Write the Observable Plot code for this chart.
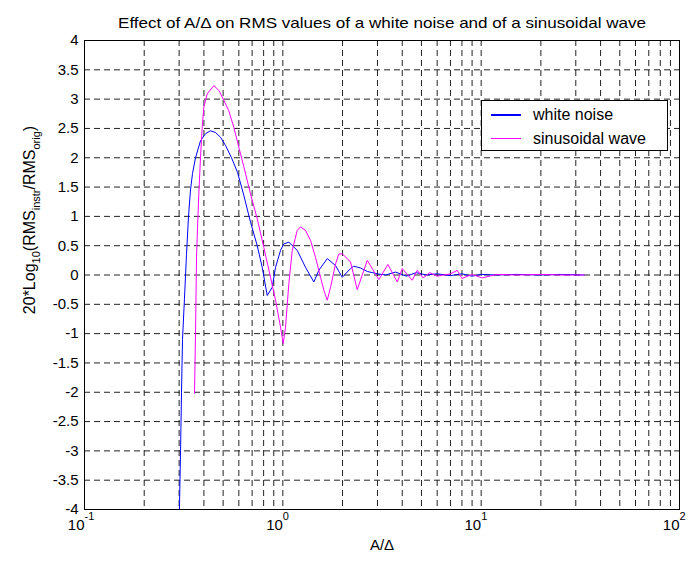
<!DOCTYPE html>
<html><head><meta charset="utf-8">
<script src="https://cdn.jsdelivr.net/npm/d3@7"></script>
<script src="https://cdn.jsdelivr.net/npm/@observablehq/plot@0.6"></script>
<style>
body{margin:0;background:#fff;font-family:"Liberation Sans",Arial,sans-serif;}
#wrap{position:relative;width:690px;height:570px;}
.legend{position:absolute;left:481px;top:100px;width:185px;height:49px;border:1px solid #000;background:#fff;font-size:16px;color:#000;}
.legend .row{position:absolute;left:0;height:20px;display:flex;align-items:center;}
.legend .sw{display:inline-block;width:30px;height:1.5px;margin-left:9px;margin-right:12px;}
</style></head><body><div id="wrap"></div>
<script>
// ---- data ----
const noiseX = [0.301,0.305,0.3084,0.312,0.3192,0.3268,0.3345,0.3423,0.3504,0.3629,0.3846,0.4076,0.4318,0.4576,0.4851,0.514,0.5511,0.5909,0.6334,0.6873,0.7428,0.7873,0.8343,0.8841,0.9188,0.9737,1.0116,1.0722,1.182,1.3018,1.4334,1.5188,1.6749,1.8447,1.9932,2.1945,2.2803,2.4651,2.6649,2.9936,3.3,3.7,4.2,4.7,5.3,6,7,8,9,10,12,15,20,25,33];
const noiseY = [-4,-3,-2,-1.1,-0.4,0.35,1.0,1.45,1.73,2.0,2.29,2.41,2.46,2.43,2.35,2.21,2.0,1.75,1.38,0.9,0.5,0.13,-0.35,-0.21,0.13,0.42,0.53,0.56,0.42,0.13,-0.12,0.08,0.28,0.16,-0.04,0.11,0.15,0.12,0.06,0.02,0.0,0.05,-0.02,0.04,0.0,0.02,-0.01,0.02,-0.02,0.01,0.0,0.01,0.0,0.01,0.0];
const sineX = [0.3587,0.3629,0.3671,0.3714,0.3771,0.3846,0.3922,0.3996,0.4157,0.4487,0.4757,0.5041,0.5341,0.5661,0.5998,0.6356,0.6873,0.7428,0.802,0.867,0.9188,0.9737,1.0046,1.0318,1.0722,1.1154,1.182,1.2283,1.3018,1.3797,1.4618,1.5494,1.6102,1.6749,1.7398,1.8447,1.9164,1.9932,2.1126,2.1945,2.3724,2.6649,3.0492,3.385,3.7757,4.0004,4.4925,4.762,5.1,5.5,6,7,7.58,8,9,10.1,12,15,20,25,33];
const sineY = [-2.02,-1.0,0.3,0.8,1.39,2.01,2.52,2.86,3.09,3.23,3.15,2.98,2.8,2.52,2.18,1.85,1.38,0.96,0.47,-0.04,-0.43,-0.89,-1.17,-0.89,-0.15,0.42,0.76,0.82,0.76,0.59,0.3,-0.04,-0.26,-0.43,-0.21,0.19,0.36,0.36,0.28,0.22,-0.25,0.25,-0.08,0.18,-0.12,0.11,-0.09,0.08,-0.05,0.04,-0.02,0.02,0.08,-0.06,0.01,-0.05,0.01,0.0,0.01,0.0,0.0];
const seriesNames = ["white noise","sinusoidal wave"];
const seriesColors = ["#0000ff","#ff00ff"];
const yTicks = [-4,-3.5,-3,-2.5,-2,-1.5,-1,-0.5,0,0.5,1,1.5,2,2.5,3,3.5,4];
const xMajor = [0.1,1,10,100];
const xExponents = ["-1","0","1","2"];
const xGrid = [0.2,0.3,0.4,0.5,0.6,0.7,0.8,0.9,1,2,3,4,5,6,7,8,9,10,20,30,40,50,60,70,80,90];
const titleText = "Effect of A/\u0394 on RMS values of a white noise and of a sinusoidal wave";
const xLabel = "A/\u0394";

const noise = noiseX.map((x,i)=>({x, y: noiseY[i], s: seriesNames[0]}));
const sine = sineX.map((x,i)=>({x, y: sineY[i], s: seriesNames[1]}));
const font = "Liberation Sans, Arial, sans-serif";
const gridStroke = "#222";

const svg = Plot.plot({
  width: 690, height: 570,
  marginLeft: 84, marginRight: 11, marginTop: 40, marginBottom: 61,
  style: {fontFamily: font, fontSize: "15px", background: "#fff", color: "#000"},
  x: {type: "log", domain: [0.1, 100], axis: null},
  y: {domain: [-4, 4], axis: null},
  marks: [
    Plot.ruleX(xGrid, {x: d=>d, stroke: gridStroke, strokeDasharray: "6,4", strokeWidth: 1}),
    Plot.ruleY(yTicks.slice(1,-1), {y: d=>d, stroke: gridStroke, strokeDasharray: "6,4", strokeWidth: 1}),
    Plot.axisY(yTicks, {tickSize: 0, tickPadding: 6, tickFormat: d=>String(d), fontSize: 15, label: null}),
    Plot.text(xMajor, {x: d=>d, frameAnchor: "bottom", text: ()=>"10", textAnchor: "end", dy: 20, fontSize: 15}),
    Plot.text(xMajor, {x: d=>d, frameAnchor: "bottom", text: (d,i)=>xExponents[i], textAnchor: "start", dy: 10, fontSize: 11}),
    Plot.text([xLabel], {frameAnchor: "bottom", text: d=>d, dy: 40, fontSize: 15}),
    Plot.text([titleText], {frameAnchor: "top", text: d=>d, dy: -23, fontSize: 15}),
    Plot.line(noise, {x: "x", y: "y", stroke: seriesColors[0], strokeWidth: 1}),
    Plot.line(sine, {x: "x", y: "y", stroke: seriesColors[1], strokeWidth: 1}),
    Plot.frame({stroke: "#000", strokeWidth: 1})
  ]
});

// stretch title to the width it has in the reference
d3.select(svg).selectAll("text").filter(function(){ return this.textContent === titleText; })
  .attr("textLength", 528).attr("lengthAdjust", "spacingAndGlyphs");

// y-axis label with subscripts
const lab = d3.select(svg).append("text")
  .attr("transform", "translate(35,220) rotate(-90)")
  .attr("text-anchor", "middle")
  .attr("font-size", 16)
  .attr("font-family", font)
  .attr("fill", "#000");
const parts = [["20*Log",0],["10",1],["(RMS",0],["instr",1],["/RMS",0],["orig",1],[")",0]];
parts.forEach(([t, sub], i) => {
  const ts = lab.append("tspan").text(t);
  if (sub) ts.attr("font-size", 11).attr("dy", 5);
  else if (i > 0) ts.attr("dy", -5);
});

const wrap = document.getElementById("wrap");
wrap.appendChild(svg);

// legend
const leg = document.createElement("div");
leg.className = "legend";
seriesNames.forEach((n,i)=>{
  const row = document.createElement("div");
  row.className = "row";
  row.style.top = (4 + i*23.5) + "px";
  const sw = document.createElement("span");
  sw.className = "sw"; sw.style.background = seriesColors[i];
  const tx = document.createElement("span"); tx.textContent = n;
  row.appendChild(sw); row.appendChild(tx);
  leg.appendChild(row);
});
wrap.appendChild(leg);
</script></body></html>
